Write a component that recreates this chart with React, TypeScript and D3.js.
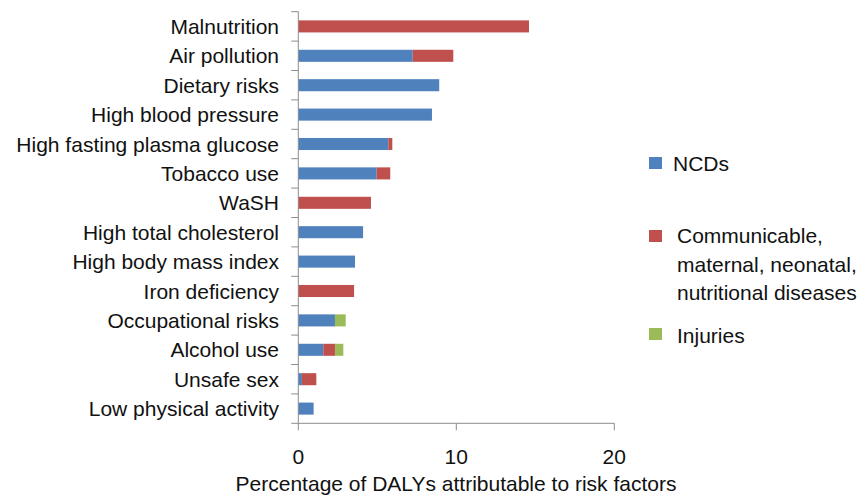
import * as d3 from 'd3'

const categories = [
  'Malnutrition',
  'Air pollution',
  'Dietary risks',
  'High blood pressure',
  'High fasting plasma glucose',
  'Tobacco use',
  'WaSH',
  'High total cholesterol',
  'High body mass index',
  'Iron deficiency',
  'Occupational risks',
  'Alcohol use',
  'Unsafe sex',
  'Low physical activity',
]
const ncds = [0, 7.24, 8.92, 8.46, 5.7, 4.96, 0, 4.1, 3.59, 0, 2.32, 1.58, 0.23, 0.97]
const communicable = [14.6, 2.57, 0, 0, 0.25, 0.86, 4.6, 0, 0, 3.53, 0, 0.74, 0.91, 0]
const injuries = [0, 0, 0, 0, 0, 0, 0, 0, 0, 0, 0.68, 0.53, 0, 0]
const xTicks = [0, 10, 20]

const seriesKeys = ['ncds', 'communicable', 'injuries']
const colors: Record<string, string> = { ncds: '#4F81BD', communicable: '#C0504D', injuries: '#9BBB59' }

const W = 859
const H = 499
const FONT = '"Liberation Sans", Arial, sans-serif'
const AXIS = '#8c8c8c'
const FS = 21

export default function App() {
  const rows = categories.map((c, i) => ({
    cat: c,
    ncds: ncds[i],
    communicable: communicable[i],
    injuries: injuries[i],
  }))
  const stack = d3.stack<any>().keys(seriesKeys)
  const layers = stack(rows)

  const x = d3.scaleLinear().domain([0, 20]).range([298.3, 614.3])
  const y = d3.scaleBand<string>().domain(categories).range([11.7, 423.3]).paddingInner(0.59).paddingOuter(0.295)
  const step = y.step()
  const y0 = 11.7
  const axisY = 423.3

  return (
    <svg width={W} height={H} style={{ position: 'absolute', left: 0, top: 0, background: '#fff' }} fontFamily={FONT}>
      {/* bars */}
      {layers.map(layer => (
        <g key={layer.key} fill={colors[layer.key]}>
          {layer.map((d, i) =>
            d[1] - d[0] > 0 ? (
              <rect
                key={i}
                x={x(d[0])}
                y={y(categories[i])}
                width={x(d[1]) - x(d[0])}
                height={y.bandwidth()}
              />
            ) : null
          )}
        </g>
      ))}

      {/* y axis */}
      <line x1={x(0)} x2={x(0)} y1={y0} y2={axisY} stroke={AXIS} strokeWidth={1} />
      {d3.range(categories.length + 1).map(i => (
        <line key={i} x1={x(0) - 7} x2={x(0)} y1={y0 + i * step} y2={y0 + i * step} stroke={AXIS} />
      ))}
      {categories.map(c => (
        <text key={c} x={279} y={y(c)! + y.bandwidth() / 2} dy="0.36em" textAnchor="end" fontSize={FS} fill="#111">
          {c}
        </text>
      ))}

      {/* x axis */}
      <line x1={x(0)} x2={x(20)} y1={axisY} y2={axisY} stroke={AXIS} />
      {xTicks.map(t => (
        <g key={t}>
          <line x1={x(t)} x2={x(t)} y1={axisY} y2={axisY + 7} stroke={AXIS} />
          <text x={x(t)} y={456} dy="0.36em" textAnchor="middle" fontSize={FS} fill="#111">
            {t}
          </text>
        </g>
      ))}
      <text x={456} y={483} dy="0.36em" textAnchor="middle" fontSize={FS} fill="#111">
        Percentage of DALYs attributable to risk factors
      </text>

      {/* legend */}
      <rect x={649} y={157} width={13} height={12} fill={colors.ncds} />
      <text x={673} y={163} dy="0.36em" fontSize={FS} fill="#111">NCDs</text>

      <rect x={649} y={230} width={13} height={12} fill={colors.communicable} />
      <text x={677} y={235} dy="0.36em" fontSize={FS} fill="#111">
        <tspan x={677}>Communicable,</tspan>
        <tspan x={677} dy={29}>maternal, neonatal,</tspan>
        <tspan x={677} dy={28.5}>nutritional diseases</tspan>
      </text>

      <rect x={649} y={328} width={13} height={12} fill={colors.injuries} />
      <text x={677} y={335} dy="0.36em" fontSize={FS} fill="#111">Injuries</text>
    </svg>
  )
}
